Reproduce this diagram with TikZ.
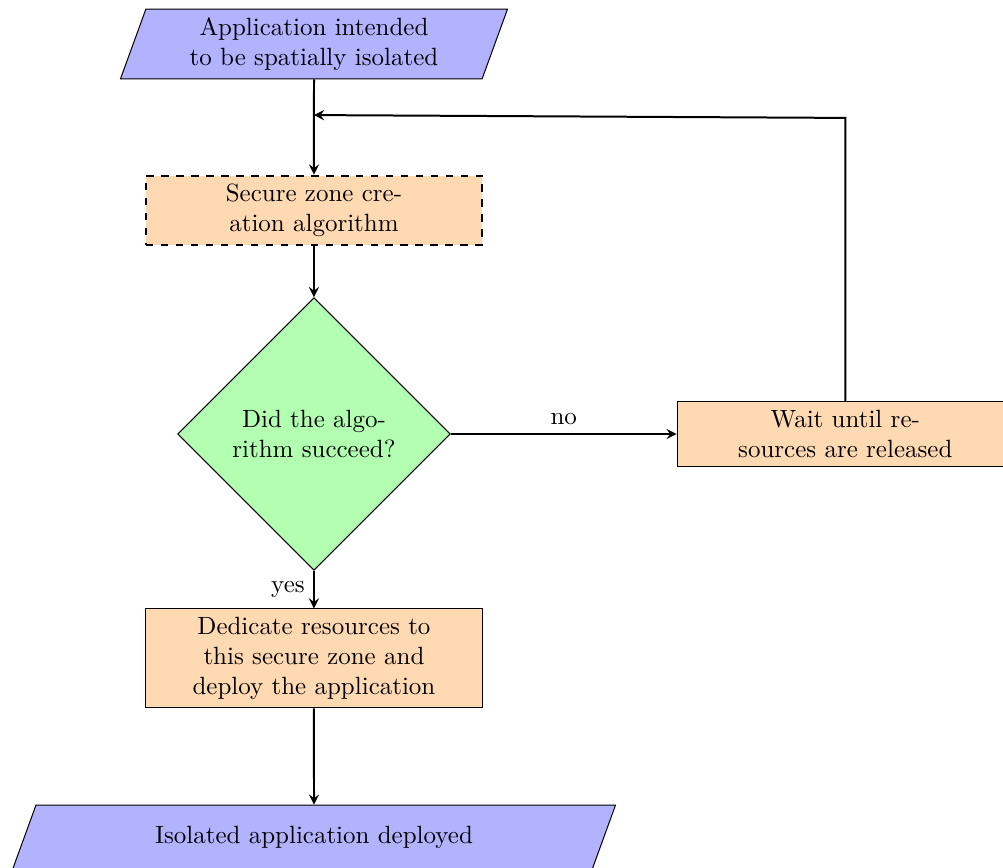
\documentclass[tikz,border=0pt]{standalone}
\usetikzlibrary{shapes.geometric}
\begin{document}
\begin{tikzpicture}[
        io/.style={trapezium, trapezium left angle=70, trapezium right angle=110,
            text width=4.5cm, minimum height=0.91cm, align=center, draw=black, fill=blue!30},
        process/.style={rectangle, text width=4.5cm, align=center, draw=black, fill=orange!30},
        decision/.style={diamond, text width=2.7cm, align=center, draw=black, fill=green!30},
        arrow/.style={thick,->,>=stealth}]
        \useasboundingbox (-4.42,-11.59) rectangle (9.70,0.62);
        \node[io] (start) at (0,0) {Application intended to be spatially isolated};
        \node[process, dashed, thick] (algo) at (0,-2.34) {Secure zone creation algorithm};
        \node[decision] (check) at (0,-5.49) {Did the algorithm succeed?};
        \node[process] (wait) at (7.48,-5.49) {Wait until resources are released};
        \node[process] (deploy) at (0,-8.65) {Dedicate resources to this secure zone and deploy the application};
        \node[io] (done) at (0,-11.17) {Isolated application deployed};
        \coordinate (corner) at (7.48,-1.04);
        \coordinate (merge) at (0,-1.0);
        \draw[arrow] (start) -- (algo);
        \draw[arrow] (algo) -- (check);
        \draw[arrow] (check) -- node[anchor=south] {no} (wait);
        \draw[arrow] (check) -- node[anchor=east] {yes} (deploy);
        \draw[arrow] (deploy) -- (done);
        \draw[arrow] (wait) -- (corner) -- (merge);
    \end{tikzpicture}
\end{document}
